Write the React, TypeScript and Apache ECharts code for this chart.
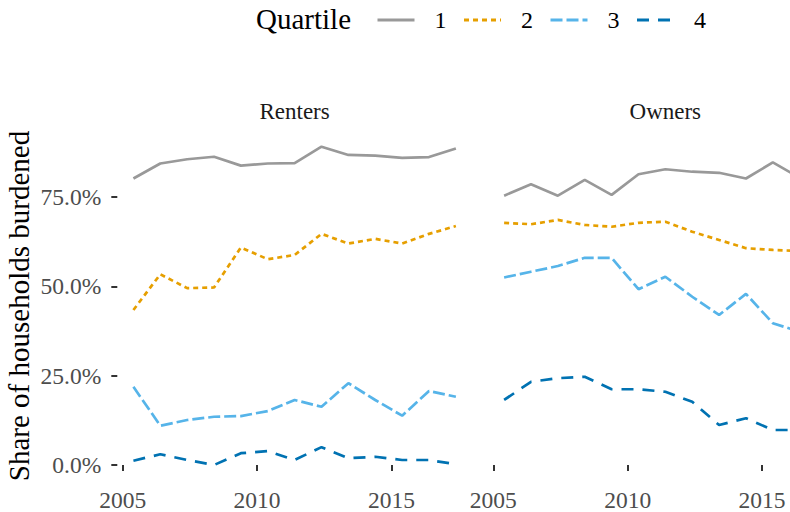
import React, { useEffect, useRef } from "react";
import * as echarts from "echarts";

const years = [2005.4, 2006.4, 2007.4, 2008.4, 2009.4, 2010.4, 2011.4, 2012.4, 2013.4, 2014.4, 2015.4, 2016.4, 2017.4];
const quartiles = ["1", "2", "3", "4"];
const xTicks = [2005, 2010, 2015];
const yTicks = [0, 25, 50, 75];
const facets = ["Renters", "Owners"];

const renters1 = [80.2, 84.4, 85.6, 86.3, 83.8, 84.4, 84.5, 89.1, 86.8, 86.6, 86.0, 86.2, 88.6];
const renters2 = [43.4, 53.4, 49.5, 49.7, 60.9, 57.6, 58.8, 64.7, 62.0, 63.3, 62.0, 64.7, 66.9];
const renters3 = [21.9, 11.0, 12.6, 13.5, 13.7, 15.1, 18.2, 16.3, 22.9, 18.2, 13.8, 20.7, 19.1];
const renters4 = [1.2, 3.0, 1.4, 0.0, 3.3, 3.9, 1.4, 5.0, 1.9, 2.3, 1.4, 1.4, 0.2];

const owners1 = [75.4, 78.6, 75.4, 79.8, 75.6, 81.4, 82.8, 82.1, 81.8, 80.2, 84.7, 80.4, 83.0];
const owners2 = [67.8, 67.4, 68.6, 67.2, 66.7, 67.8, 68.1, 65.3, 63.0, 60.7, 60.2, 59.9, 59.5];
const owners3 = [52.5, 54.1, 55.7, 58.0, 58.0, 49.2, 52.7, 47.1, 42.0, 47.9, 39.7, 37.3, 36.5];
const owners4 = [18.2, 23.3, 24.3, 24.7, 21.2, 21.2, 20.5, 17.7, 11.2, 13.1, 9.8, 9.8, 9.5];

const colors = ["#999999", "#E69F00", "#56B4E9", "#0072B2"];
const dashes: any[] = ["solid", [5, 4], [12, 4], [12, 9]];

const FONT = "'Liberation Serif', 'DejaVu Serif', serif";

export default function App() {
  const ref = useRef<HTMLDivElement>(null);
  useEffect(() => {
    if (!ref.current) return;
    const chart = echarts.init(ref.current, undefined, { renderer: "svg" });
    const rentersData = [renters1, renters2, renters3, renters4];
    const ownersData = [owners1, owners2, owners3, owners4];
    const mk = (arr: number[][], gi: number) =>
      arr.map((vals, i) => ({
        name: quartiles[i],
        type: "line",
        xAxisIndex: gi,
        yAxisIndex: gi,
        data: vals.map((v, j) => [years[j], v]),
        showSymbol: false,
        symbol: "none",
        clip: true,
        lineStyle: { color: colors[i], width: 2.7, type: dashes[i] },
        itemStyle: { color: colors[i] },
        z: 2 + i,
      }));
    const xAxisBase = (gi: number) => ({
      type: "value",
      gridIndex: gi,
      min: 2004.8,
      max: 2018.0,
      axisLine: { show: false },
      splitLine: { show: false },
      axisTick: {
        show: true,
        length: 6,
        customValues: xTicks,
        lineStyle: { color: "#333333", width: 2 },
      },
      axisLabel: {
        customValues: xTicks,
        color: "#4D4D4D",
        fontSize: 23.5,
        lineHeight: 16,
        fontFamily: FONT,
        margin: 11,
        formatter: (v: number) => String(Math.round(v)),
      },
    });
    const yAxisBase = (gi: number) => ({
      type: "value",
      gridIndex: gi,
      min: -4.48,
      max: 93.5,
      axisLine: { show: false },
      splitLine: { show: false },
      axisTick: {
        show: gi === 0,
        length: 6,
        customValues: yTicks,
        lineStyle: { color: "#333333", width: 2 },
      },
      axisLabel: {
        show: gi === 0,
        customValues: yTicks,
        color: "#4D4D4D",
        fontSize: 23.5,
        fontFamily: FONT,
        margin: 16,
        formatter: (v: number) => v.toFixed(1) + "%",
      },
    });
    chart.setOption({
      animation: false,
      backgroundColor: "#ffffff",
      grid: [
        { left: 117.3, top: 131, width: 354.7, height: 350, containLabel: false, outerBoundsMode: "none" },
        { left: 488, top: 131, width: 354.7, height: 350, containLabel: false, outerBoundsMode: "none" },
      ],
      xAxis: [xAxisBase(0), xAxisBase(1)],
      yAxis: [yAxisBase(0), yAxisBase(1)],
      legend: {
        data: quartiles,
        left: 371,
        top: 3,
        itemWidth: 37,
        itemHeight: 14,
        itemGap: 16,
        itemStyle: { opacity: 0 },
        lineStyle: { width: 3 },
        textStyle: {
          fontSize: 24,
          fontFamily: FONT,
          color: "#000000",
          padding: [0, 0, 0, 15],
        },
      },
      graphic: [
        {
          type: "text",
          left: 256,
          top: 4,
          style: { text: "Quartile", fontSize: 29, fontFamily: FONT, fill: "#000000" },
        },
        {
          type: "text",
          x: 294.6,
          y: 111,
          style: {
            text: facets[0],
            fontSize: 23,
            fontFamily: FONT,
            fill: "#1A1A1A",
            textAlign: "center",
            textVerticalAlign: "middle",
          },
        },
        {
          type: "text",
          x: 665.3,
          y: 111,
          style: {
            text: facets[1],
            fontSize: 23,
            fontFamily: FONT,
            fill: "#1A1A1A",
            textAlign: "center",
            textVerticalAlign: "middle",
          },
        },
        {
          type: "text",
          x: 19,
          y: 306,
          rotation: Math.PI / 2,
          style: {
            text: "Share of households burdened",
            fontSize: 29,
            fontFamily: FONT,
            fill: "#000000",
            textAlign: "center",
            textVerticalAlign: "middle",
          },
        },
      ],
      series: [...mk(rentersData, 0), ...mk(ownersData, 1)],
    });
    return () => chart.dispose();
  }, []);
  return (
    <div
      ref={ref}
      style={{ position: "absolute", left: 0, top: 0, width: 790, height: 512 }}
    />
  );
}
